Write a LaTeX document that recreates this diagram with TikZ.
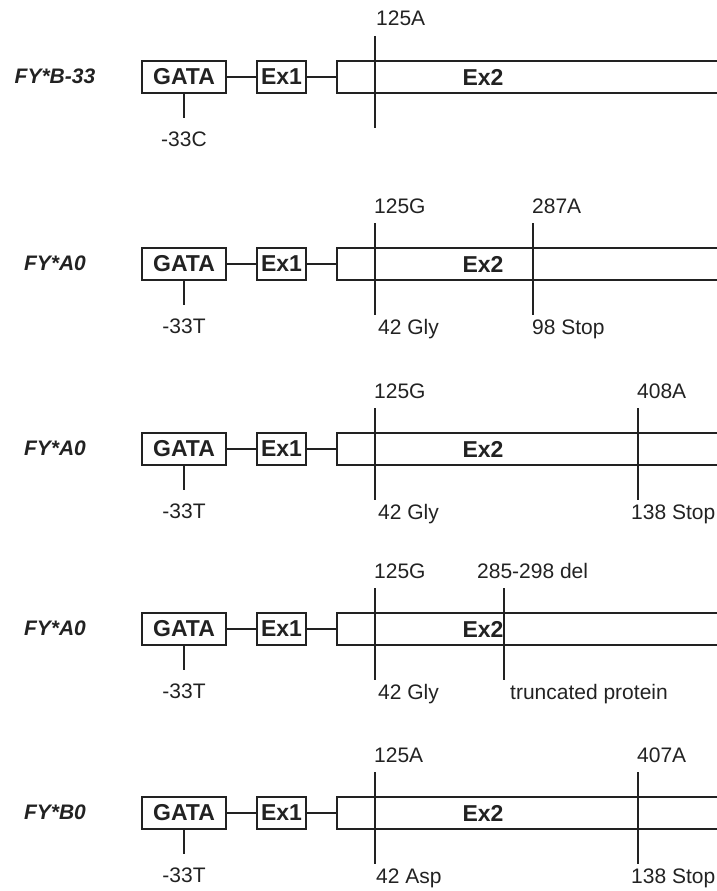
\documentclass[tikz,border=0pt]{standalone}
\usepackage{fontspec}
\setmainfont{Liberation Sans}
\usepackage{tikz}
\usepackage{xcolor}
\definecolor{ink}{HTML}{222222}
\tikzset{
  box/.style={draw=ink, line width=1.4pt, inner sep=0pt, minimum height=32pt, text=ink, font=\fontsize{23}{27}\selectfont\bfseries},
  gatabox/.style={box, minimum width=84pt},
  exonebox/.style={box, minimum width=49pt},
  exontwobox/.style={box, minimum width=390pt},
  exname/.style={inner sep=0pt, text=ink, font=\fontsize{23}{27}\selectfont\bfseries},
  allele/.style={inner sep=0pt, text=ink, font=\fontsize{21}{25}\selectfont\bfseries\itshape},
  site/.style={inner sep=0pt, anchor=base west, text=ink, font=\fontsize{21}{25}\selectfont},
  snp/.style={inner sep=0pt, anchor=base, text=ink, font=\fontsize{21}{25}\selectfont},
  link/.style={draw=ink, line width=1.4pt}
}
\begin{document}
\begin{tikzpicture}[x=1pt,y=-1pt]
  \useasboundingbox (0,0) rectangle (717,891);
  \clip (0,0) rectangle (717,891);

  \node[allele] (fy1) at (55,76) {FY*B-33};
  \node[gatabox] (gata1) at (184,77) {GATA};
  \node[exonebox] (exa1) at (281.5,77) {Ex1};
  \node[exontwobox] (exb1) at (532,77) {};
  \node[exname] (exn1) at (483,77) {Ex2};
  \draw[link] (gata1) -- (exa1);
  \draw[link] (exa1) -- (exb1);
  \coordinate (tick1) at (184,118);
  \draw[link] (gata1.south) -- (tick1);
  \node[snp] (snp1) at (184,146) {-33C};
  \coordinate (m11t) at (375,36);
  \coordinate (m11b) at (375,128);
  \draw[link] (m11t) -- (m11b);
  \node[site] (s11) at (376,26) {125A};

  \node[allele] (fy2) at (55,263) {FY*A0};
  \node[gatabox] (gata2) at (184,264) {GATA};
  \node[exonebox] (exa2) at (281.5,264) {Ex1};
  \node[exontwobox] (exb2) at (532,264) {};
  \node[exname] (exn2) at (483,264) {Ex2};
  \draw[link] (gata2) -- (exa2);
  \draw[link] (exa2) -- (exb2);
  \coordinate (tick2) at (184,305);
  \draw[link] (gata2.south) -- (tick2);
  \node[snp] (snp2) at (184,333) {-33T};
  \coordinate (m21t) at (375,223);
  \coordinate (m21b) at (375,315);
  \coordinate (m22t) at (533,223);
  \coordinate (m22b) at (533,315);
  \draw[link] (m21t) -- (m21b);
  \draw[link] (m22t) -- (m22b);
  \node[site] (s21) at (374,213) {125G};
  \node[site] (s22) at (532,213) {287A};
  \node[site] (p21) at (378,334) {42 Gly};
  \node[site] (p22) at (532,334) {98 Stop};

  \node[allele] (fy3) at (55,448) {FY*A0};
  \node[gatabox] (gata3) at (184,449) {GATA};
  \node[exonebox] (exa3) at (281.5,449) {Ex1};
  \node[exontwobox] (exb3) at (532,449) {};
  \node[exname] (exn3) at (483,449) {Ex2};
  \draw[link] (gata3) -- (exa3);
  \draw[link] (exa3) -- (exb3);
  \coordinate (tick3) at (184,490);
  \draw[link] (gata3.south) -- (tick3);
  \node[snp] (snp3) at (184,518) {-33T};
  \coordinate (m31t) at (375,408);
  \coordinate (m31b) at (375,500);
  \coordinate (m32t) at (638,408);
  \coordinate (m32b) at (638,500);
  \draw[link] (m31t) -- (m31b);
  \draw[link] (m32t) -- (m32b);
  \node[site] (s31) at (374,398) {125G};
  \node[site] (s32) at (637,398) {408A};
  \node[site] (p31) at (378,519) {42 Gly};
  \node[site] (p32) at (631,519) {138 Stop};

  \node[allele] (fy4) at (55,628) {FY*A0};
  \node[gatabox] (gata4) at (184,629) {GATA};
  \node[exonebox] (exa4) at (281.5,629) {Ex1};
  \node[exontwobox] (exb4) at (532,629) {};
  \node[exname] (exn4) at (483,629) {Ex2};
  \draw[link] (gata4) -- (exa4);
  \draw[link] (exa4) -- (exb4);
  \coordinate (tick4) at (184,670);
  \draw[link] (gata4.south) -- (tick4);
  \node[snp] (snp4) at (184,698) {-33T};
  \coordinate (m41t) at (375,588);
  \coordinate (m41b) at (375,680);
  \coordinate (m42t) at (504,588);
  \coordinate (m42b) at (504,680);
  \draw[link] (m41t) -- (m41b);
  \draw[link] (m42t) -- (m42b);
  \node[site] (s41) at (374,578) {125G};
  \node[site] (s42) at (477,578) {285-298 del};
  \node[site] (p41) at (378,699) {42 Gly};
  \node[site] (p42) at (510,699) {truncated protein};

  \node[allele] (fy5) at (55,812) {FY*B0};
  \node[gatabox] (gata5) at (184,813) {GATA};
  \node[exonebox] (exa5) at (281.5,813) {Ex1};
  \node[exontwobox] (exb5) at (532,813) {};
  \node[exname] (exn5) at (483,813) {Ex2};
  \draw[link] (gata5) -- (exa5);
  \draw[link] (exa5) -- (exb5);
  \coordinate (tick5) at (184,854);
  \draw[link] (gata5.south) -- (tick5);
  \node[snp] (snp5) at (184,882) {-33T};
  \coordinate (m51t) at (375,772);
  \coordinate (m51b) at (375,864);
  \coordinate (m52t) at (638,772);
  \coordinate (m52b) at (638,864);
  \draw[link] (m51t) -- (m51b);
  \draw[link] (m52t) -- (m52b);
  \node[site] (s51) at (374,762) {125A};
  \node[site] (s52) at (637,762) {407A};
  \node[site] (p51) at (376,883) {42 Asp};
  \node[site] (p52) at (631,883) {138 Stop};
\end{tikzpicture}
\end{document}
